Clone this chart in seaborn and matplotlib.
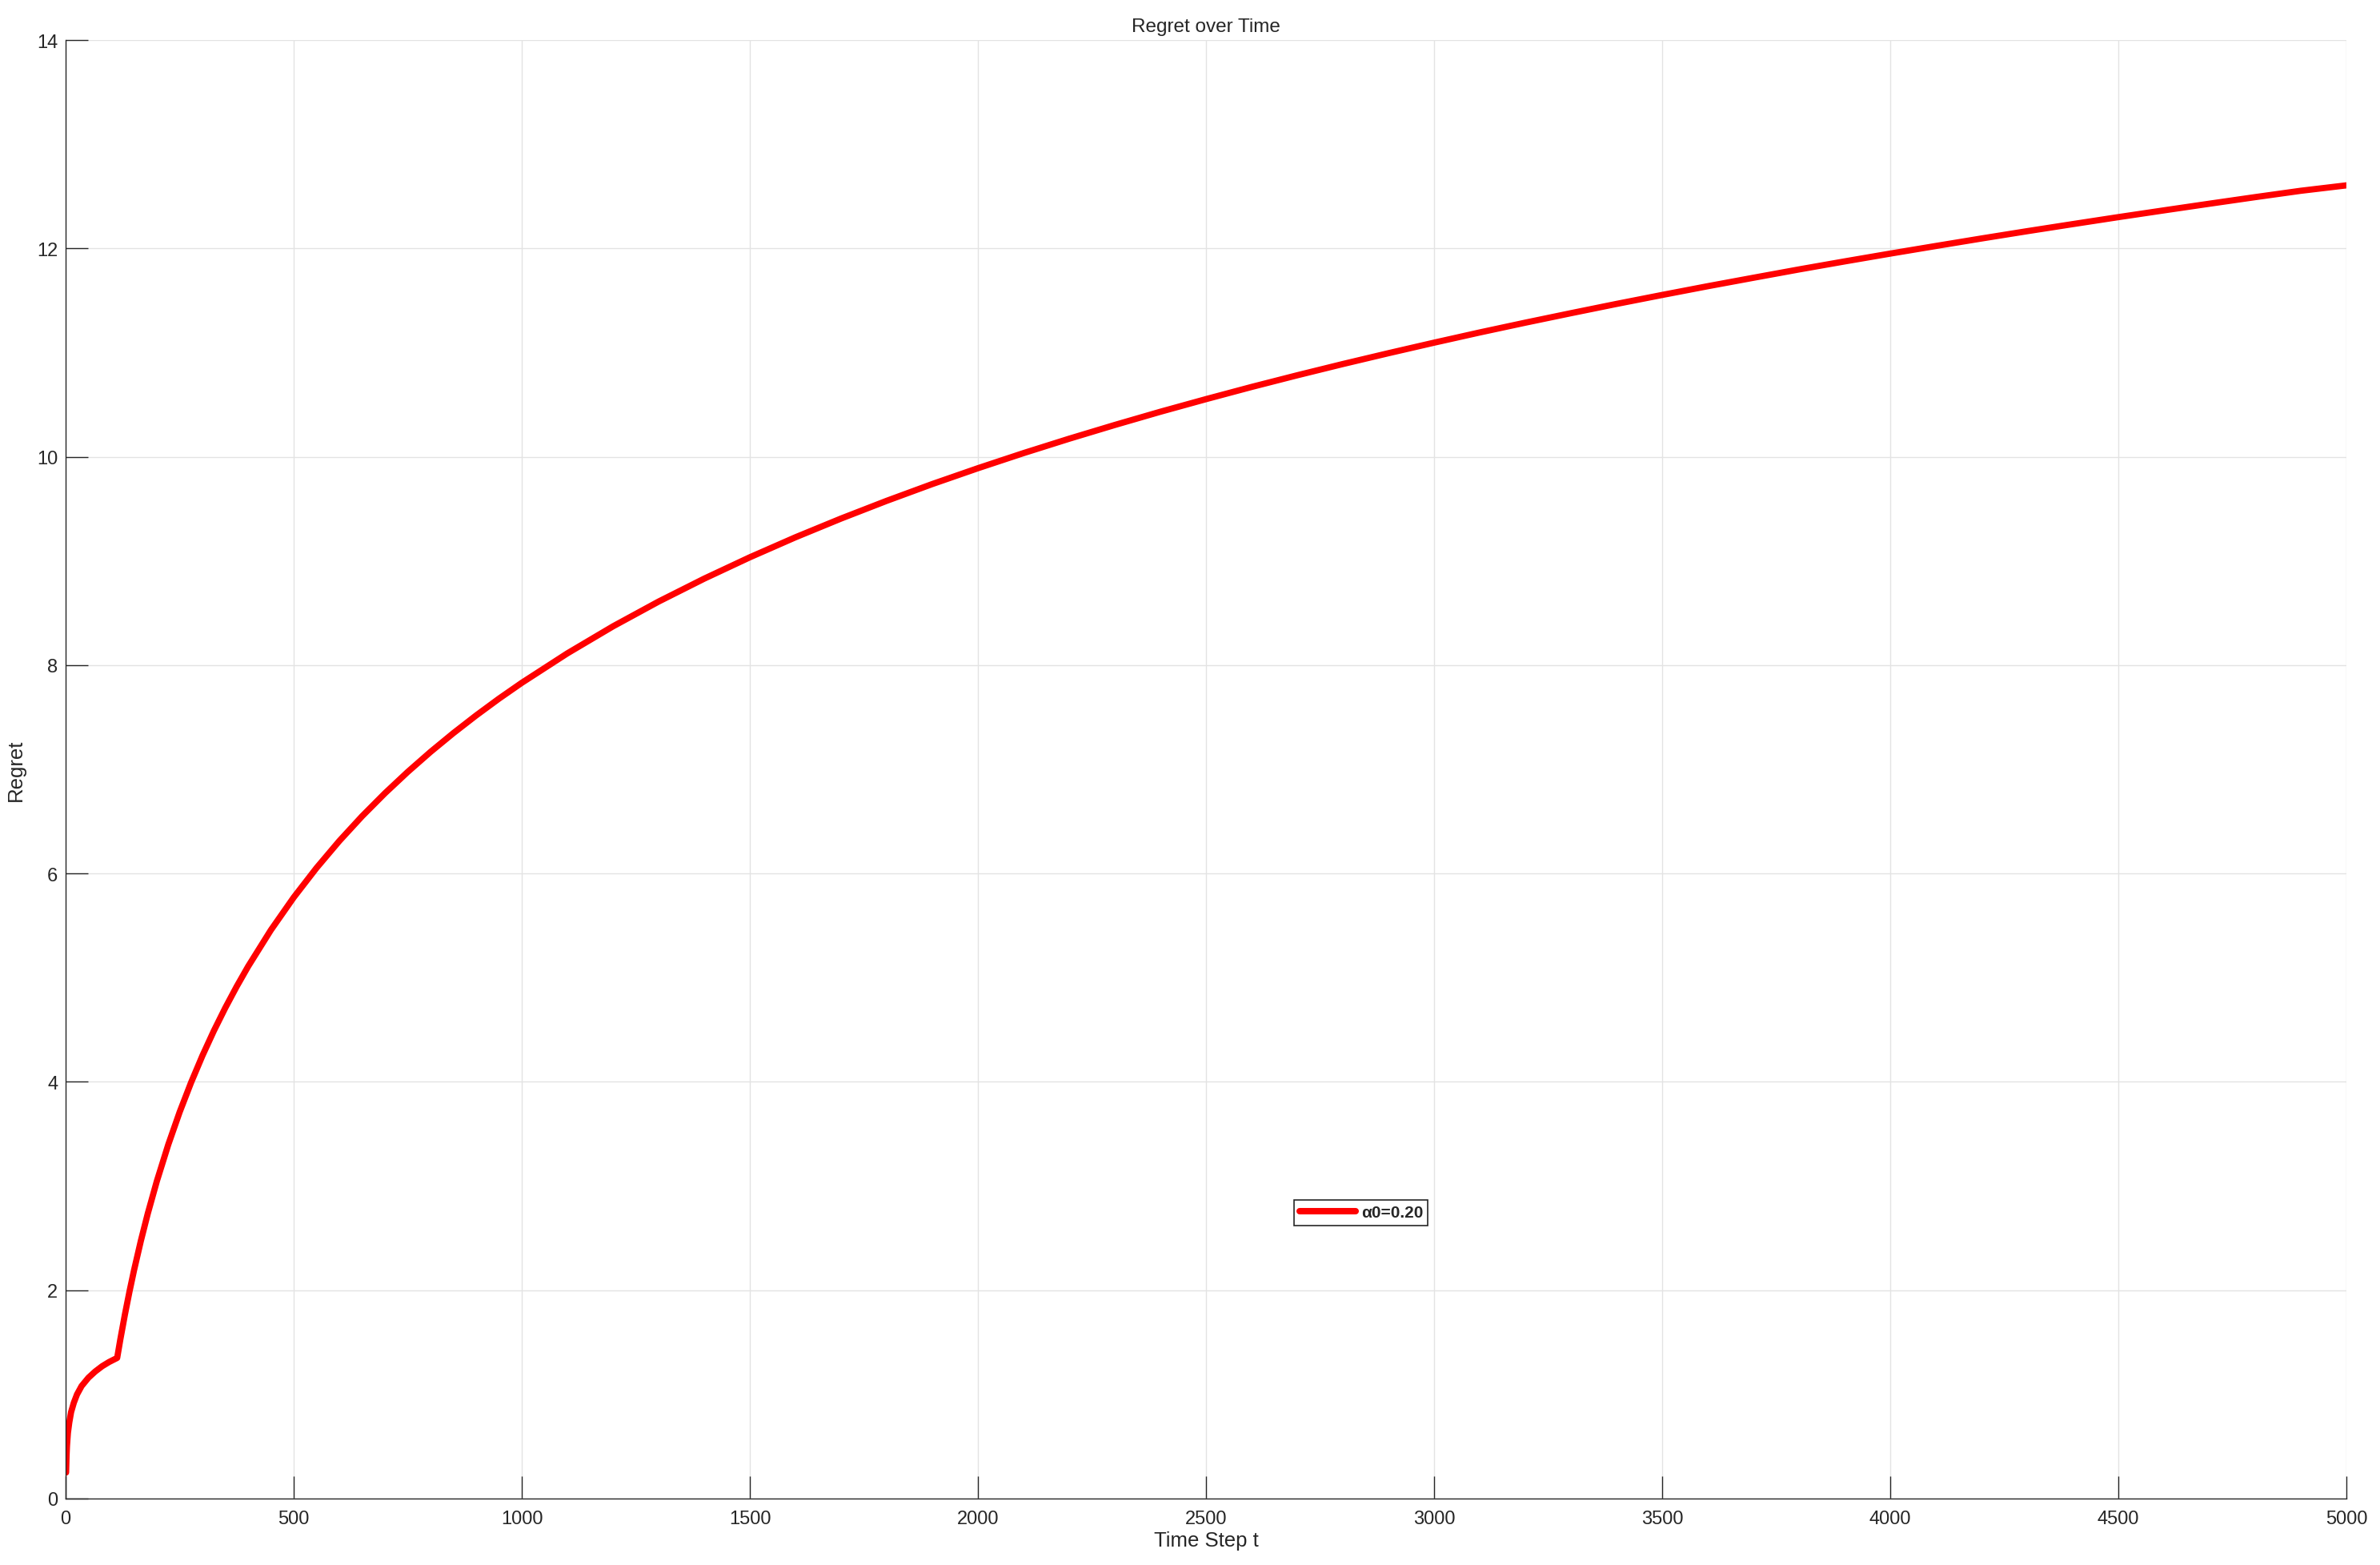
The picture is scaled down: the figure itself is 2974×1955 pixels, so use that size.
import matplotlib
matplotlib.use('Agg')
import matplotlib.pyplot as plt
import seaborn as sns
import numpy as np
import pandas as pd

# values (time step, regret)
time_step = [1, 2, 3, 5, 8, 12, 18, 25, 35, 50, 65, 80, 95, 113,
             120, 130, 140, 150, 165, 180, 200, 225, 250, 275, 300, 325,
             350, 375, 400, 450, 500, 550, 600, 650, 700, 750, 800, 850,
             900, 950, 1000, 1100, 1200, 1300, 1400, 1500, 1600, 1700,
             1800, 1900, 2000, 2100, 2200, 2300, 2400, 2500, 2600, 2700,
             2800, 2900, 3000, 3100, 3200, 3300, 3400, 3500, 3600, 3700,
             3800, 3900, 4000, 4100, 4200, 4300, 4400, 4500, 4600, 4700,
             4800, 4900, 5000]
regret = [0.25, 0.41, 0.51, 0.63, 0.73, 0.83, 0.92, 1.00, 1.08, 1.16,
          1.22, 1.27, 1.31, 1.350,
          1.529, 1.767, 1.987, 2.192, 2.475, 2.734, 3.047, 3.397, 3.710,
          3.993, 4.252, 4.490, 4.710, 4.915, 5.107, 5.457, 5.770, 6.053,
          6.312, 6.550, 6.770, 6.975, 7.167, 7.347, 7.517, 7.678, 7.830,
          8.113, 8.372, 8.610, 8.830, 9.035, 9.227, 9.407, 9.577, 9.738,
          9.890, 10.035, 10.173, 10.305, 10.432, 10.553, 10.670, 10.782,
          10.890, 10.994, 11.095, 11.193, 11.287, 11.378, 11.467, 11.553,
          11.637, 11.718, 11.798, 11.875, 11.950, 12.023, 12.095, 12.165,
          12.233, 12.300, 12.365, 12.429, 12.492, 12.553, 12.605]
series_label = 'α0=0.20'

x_ticks = [0, 500, 1000, 1500, 2000, 2500, 3000, 3500, 4000, 4500, 5000]
y_ticks = [0, 2, 4, 6, 8, 10, 12, 14]

df = pd.DataFrame({'t': time_step, 'regret': regret, 'series': series_label})

sns.set_style('white')
plt.rcParams['font.family'] = ['Liberation Sans', 'DejaVu Sans']

fig = plt.figure(figsize=(29.74, 19.56), dpi=100)
ax = fig.add_axes([82 / 2974, 83 / 1956, 2850 / 2974, 1822 / 1956])

sns.lineplot(data=df, x='t', y='regret', hue='series', palette=['#ff0000'],
             linewidth=5.6, ax=ax, estimator=None, sort=False)
ax.get_lines()[0].set_solid_joinstyle('round')

ax.set_xlim(0, 5000)
ax.set_ylim(0, 14)
ax.set_xticks(x_ticks)
ax.set_yticks(y_ticks)
ax.set_xticklabels([str(v) for v in x_ticks])
ax.set_yticklabels([str(v) for v in y_ticks])

# matlab-ish look: light grid, inward ticks, only left/bottom axes
ax.grid(True, color='#e3e3e3', linewidth=1.0)
ax.set_axisbelow(True)
for side in ['top', 'right']:
    ax.spines[side].set_visible(False)
for side in ['left', 'bottom']:
    ax.spines[side].set_color('#262626')
    ax.spines[side].set_linewidth(1.0)

ax.tick_params(axis='both', direction='in', length=20.5, width=1.0,
               colors='#262626', labelsize=17, labelcolor='#262626')
ax.tick_params(axis='y', pad=7)
ax.tick_params(axis='x', pad=10)
ax.tick_params(top=False, right=False, left=True, bottom=True)

ax.set_xlabel('Time Step t', fontsize=18.5, color='#262626', labelpad=3)
ax.set_ylabel('Regret', fontsize=18.5, color='#262626', labelpad=10)
ax.set_title('Regret over Time', fontsize=17.5, color='#262626', pad=8)

leg = ax.legend(loc='center', bbox_to_anchor=(0.568, 0.196), frameon=True,
                fancybox=False, edgecolor='#262626', framealpha=1.0,
                prop={'size': 15, 'weight': 'bold'}, handlelength=3.4,
                handletextpad=0.3, borderpad=0.3, borderaxespad=0)
leg.get_frame().set_linewidth(1.2)
for line in leg.get_lines():
    line.set_linewidth(5.8)
for txt in leg.get_texts():
    txt.set_color('#262626')

plt.savefig('out.png', dpi=100)
